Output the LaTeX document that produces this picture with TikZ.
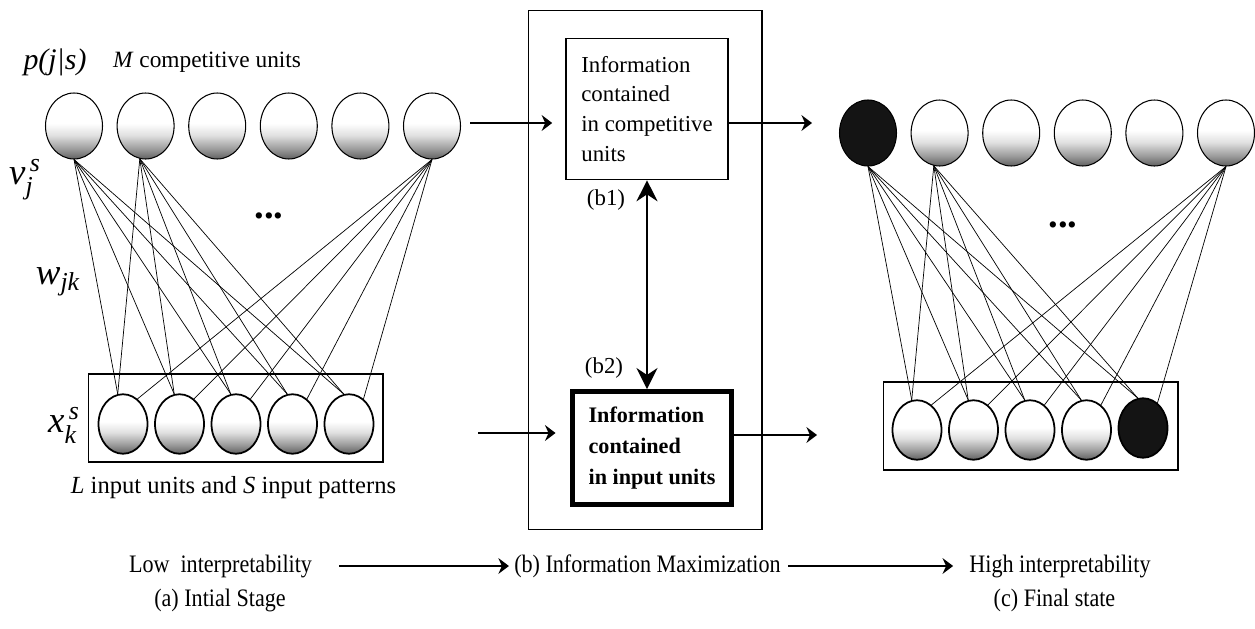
\documentclass[tikz,border=0pt]{standalone}
\usepackage{amsmath}
\usepackage{fontspec}
\setmainfont{Liberation Serif}
\newfontfamily\condfont[FakeStretch=0.88]{Liberation Serif}
\usetikzlibrary{shapes.geometric,arrows.meta}
\pgfdeclareverticalshading{unitshade}{100bp}{color(0bp)=(black!62); color(25bp)=(black!62);
  color(33bp)=(black!38); color(43bp)=(black!12); color(52bp)=(white); color(100bp)=(white)}
\tikzset{
  >={Stealth[length=6pt,width=9pt,inset=2pt]},
  bigtip/.style={>={Stealth[length=12pt,width=12pt,inset=4pt]}},
  unitshape/.style={ellipse, draw, inner sep=0pt, line width=0.6pt,
    minimum width=1.14cm, minimum height=1.32cm},
  unit/.style={unitshape, shading=unitshade},
  inunit/.style={unit, line width=1pt, minimum width=0.98cm, minimum height=1.19cm},
  winner/.style={unitshape, fill=black!92},
  inwinner/.style={winner, line width=1pt, minimum width=0.98cm, minimum height=1.19cm},
  wire/.style={line width=0.4pt},
  frame/.style={draw, line width=0.6pt, inner sep=0pt, minimum width=5.9cm, minimum height=1.76cm},
  flow/.style={->, line width=0.9pt},
  lbl/.style={inner sep=0pt, font=\fontsize{13}{16}\selectfont},
  stage/.style={inner sep=0pt, font=\condfont\fontsize{14.3}{17}\selectfont},
  dots/.style={font=\bfseries\fontsize{22}{24}\selectfont}
  }

\begin{document}
\begin{tikzpicture}[x=0.02cm, y=-0.02cm]
    \useasboundingbox (0,0) rectangle (1255,629);

    % (a) initial stage
    \node [frame] (inA) at (235.5,418) {};
    \foreach \i in {1,...,6}
      \node [unit] (a\i) at ({74+71.6*(\i-1)},126) {};
    \foreach \i in {1,...,5}
      \node [inunit] (x\i) at ({123+56.5*(\i-1)},424) {};
    \foreach \i in {1,...,5} {
      \draw [wire] (a1.south) -- (x\i.100);
      \draw [wire] (a2.260) -- (x\i.100);
      \draw [wire] (a6.south) -- (x\i.60);
    }
    \node [font=\fontsize{17}{20}\selectfont\itshape] (pjs) at (55,62) {p(j|s)};
    \node [lbl, font=\fontsize{13.3}{16}\selectfont] (mlab) at (207,62) {\textit{M} competitive units};
    \node [font=\fontsize{21}{24}\selectfont] (vlab) at (25,180) {$\textit{v}^{\,\textit{s}}_{\textit{j}}$};
    \node [font=\fontsize{21}{24}\selectfont] (wlab) at (58,282) {$\textit{w}_{\textit{jk}}$};
    \node [font=\fontsize{21}{24}\selectfont] (xlab) at (64,425) {$\textit{x}^{\,\textit{s}}_{\textit{k}}$};
    \node [dots] (dotsA) at (269,216) {...};
    \node [lbl, font=\fontsize{14}{17}\selectfont] (llab) at (233.5,488) {\textit{L} input units and \textit{S} input patterns};

    % (b) information maximization
    \node [draw, line width=0.6pt, minimum width=4.68cm, minimum height=10.4cm] (mid) at (645,270) {};
    \node [draw, line width=0.9pt, minimum width=3.24cm, minimum height=2.82cm,
      align=left, font=\fontsize{13}{17}\selectfont] (b1) at (647,109)
      {Information\\contained\\in competitive\\units};
    \node [draw, line width=2.8pt, minimum width=3.18cm, minimum height=2.26cm,
      align=left, font=\bfseries\fontsize{12.6}{17.8}\selectfont] (b2) at (652,448)
      {Information\\contained\\in input units};
    \draw [<->, line width=0.9pt, bigtip] (b1.south) -- (b1.south |- b2.north);
    \node [lbl] (b1lab) at (606,200) {(b1)};
    \node [lbl] (b2lab) at (604,368) {(b2)};

    \coordinate (inTop) at (470,123);
    \coordinate (outTop) at (812,123);
    \coordinate (inBot) at (478,433);
    \coordinate (outBot) at (817,435);
    \draw [flow, shorten >=0.26cm] (inTop) -- (inTop -| b1.west);
    \draw [flow] (b1.east |- outTop) -- (outTop);
    \draw [flow, shorten >=0.29cm] (inBot) -- (inBot -| b2.west);
    \draw [flow] (b2.east |- outBot) -- (outBot);

    % (c) final state
    \node [frame] (inC) at (1030.5,426) {};
    \node [winner] (c1) at (868,133) {};
    \foreach \i in {2,...,6}
      \node [unit] (c\i) at ({868+71.6*(\i-1)},133) {};
    \foreach \i in {1,...,4}
      \node [inunit] (y\i) at ({917+56.5*(\i-1)},430) {};
    \node [inwinner] (y5) at (1143,428) {};
    \foreach \i in {1,...,5} {
      \draw [wire] (c1.south) -- (y\i.100);
      \draw [wire] (c2.260) -- (y\i.100);
      \draw [wire] (c6.south) -- (y\i.60);
    }
    \node [dots] (dotsC) at (1063,225) {...};

    % bottom line
    \node [stage] (low) at (220.5,566) {Low\ \ interpretability};
    \node [stage] (maxi) at (647.5,566) {(b) Information Maximization};
    \node [stage] (high) at (1060,566) {High interpretability};
    \node [stage] (sa) at (220,600) {(a) Intial Stage};
    \node [stage] (sc) at (1054.5,600) {(c) Final state};
    \draw [flow, line width=0.8pt, shorten <=0.54cm, shorten >=0.1cm] (low.east) -- (maxi.west);
    \draw [flow, line width=0.8pt, shorten <=0.14cm, shorten >=0.32cm] (maxi.east) -- (high.west);

\end{tikzpicture}
\end{document}
